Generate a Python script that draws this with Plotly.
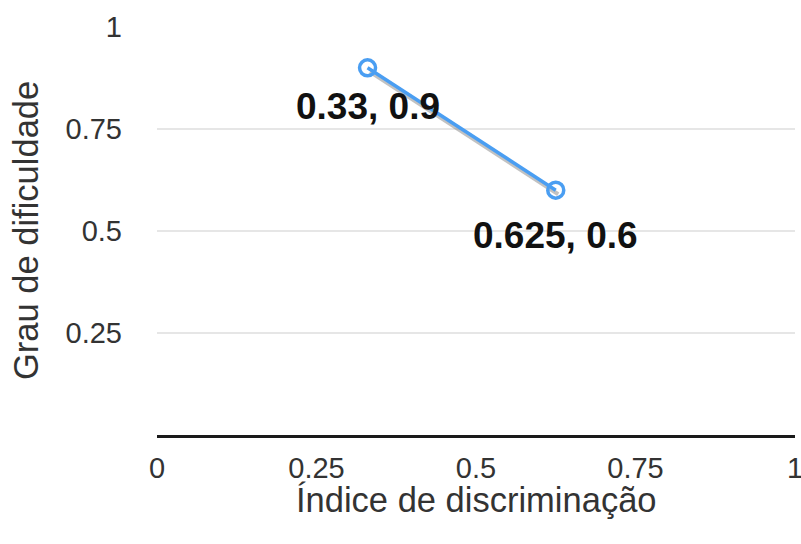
import plotly.graph_objects as go

# Item analysis: discrimination index vs. difficulty
discriminacao = [0.33, 0.625]
dificuldade = [0.9, 0.6]
label_shift = [-39, -45]

x_ticks = [0, 0.25, 0.5, 0.75, 1]
y_ticks = [0.25, 0.5, 0.75, 1]

FONT = "Liberation Sans, Arial, Helvetica, sans-serif"
BLUE = "#4a9ef2"
TEXT = "#333333"

# plot-area size in pixels, used to turn a small pixel offset into data units
plot_w = 801 - 157 - 6
plot_h = 544 - 27 - 109
shadow_dx = 2.5 / plot_w
shadow_dy = -4.0 / plot_h

fig = go.Figure()

# soft drop shadow under the line
fig.add_trace(go.Scatter(
    x=[v + shadow_dx for v in discriminacao],
    y=[v + shadow_dy for v in dificuldade],
    mode="lines",
    line=dict(color="rgba(120,120,120,0.45)", width=4),
    hoverinfo="skip",
    showlegend=False,
))

fig.add_trace(go.Scatter(
    x=discriminacao,
    y=dificuldade,
    mode="lines+markers",
    line=dict(color=BLUE, width=3.5),
    marker=dict(symbol="circle-open", size=16, color=BLUE,
                line=dict(width=3.5, color=BLUE)),
    showlegend=False,
))

for xv, yv, dy in zip(discriminacao, dificuldade, label_shift):
    fig.add_annotation(
        x=xv, y=yv, text=f"<b>{xv:g}, {yv:g}</b>",
        showarrow=False, yshift=dy,
        font=dict(family=FONT, size=37, color="#111111"),
    )

# axis titles
fig.add_annotation(
    text="Grau de dificuldade", textangle=-90,
    xref="paper", yref="paper", x=0, y=0.5,
    xanchor="center", yanchor="middle", xshift=-131,
    showarrow=False,
    font=dict(family=FONT, size=34.5, color=TEXT),
)
fig.add_annotation(
    text="Índice de discriminação",
    xref="paper", yref="paper", x=0.5, y=0,
    xanchor="center", yanchor="middle", yshift=-65,
    showarrow=False,
    font=dict(family=FONT, size=34.5, color=TEXT),
)

fig.update_layout(
    width=801, height=544,
    margin=dict(l=157, r=6, t=27, b=109, autoexpand=False),
    paper_bgcolor="white", plot_bgcolor="white",
    font=dict(family=FONT, color=TEXT),
    xaxis=dict(
        range=[0, 1], tickvals=x_ticks, ticktext=[f"{v:g}" for v in x_ticks],
        showgrid=False, zeroline=False, automargin=False,
        showline=True, linecolor="#1a1a1a", linewidth=3,
        tickfont=dict(size=29, color=TEXT),
        ticks="", ticklabelstandoff=5, ticklabeloverflow="allow",
        fixedrange=True,
    ),
    yaxis=dict(
        range=[0, 1], tickvals=y_ticks, ticktext=[f"{v:g}" for v in y_ticks],
        showgrid=True, gridcolor="#e6e6e6", gridwidth=2,
        zeroline=False, showline=False, automargin=False,
        tickfont=dict(size=29, color=TEXT),
        ticks="", ticklabelstandoff=34, ticklabeloverflow="allow",
        fixedrange=True,
    ),
)

fig.write_html("out.html")
